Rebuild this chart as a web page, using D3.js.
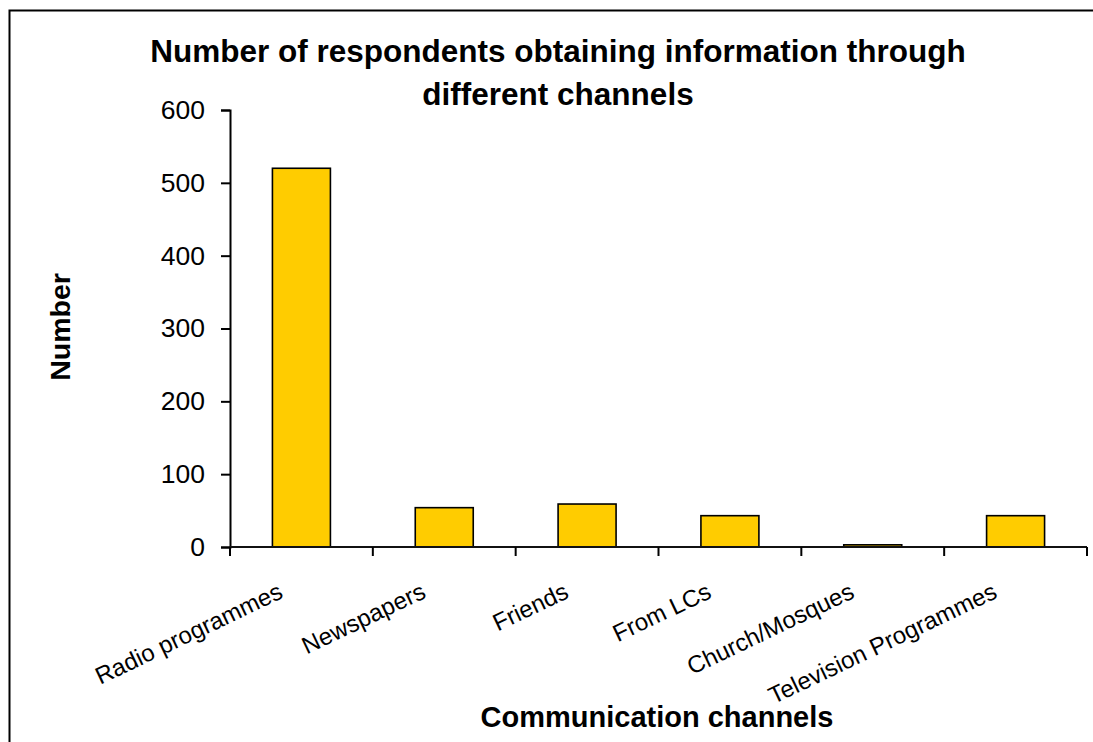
<!DOCTYPE html>
<html>
<head>
<meta charset="utf-8">
<script src="https://cdn.jsdelivr.net/npm/d3@7"></script>
<style>
  html, body { margin: 0; padding: 0; background: #ffffff; }
  svg { display: block; font-family: "Liberation Sans", Arial, sans-serif; }
</style>
</head>
<body>
<svg id="chart" width="1093" height="742"></svg>
<script>
// Communication channels and respondent counts
const channels = ["Radio programmes", "Newspapers", "Friends", "From LCs", "Church/Mosques", "Television Programmes"];
const respondents = [520, 54, 59, 43, 3, 43];
const yTicks = [0, 100, 200, 300, 400, 500, 600];
const titleLines = ["Number of respondents obtaining information through", "different channels"];
const xTitle = "Communication channels";
const yTitle = "Number";

const svg = d3.select("#chart");

// outer chart frame
svg.append("rect")
  .attr("x", 9.5).attr("y", 10.5)
  .attr("width", 1200).attr("height", 900)
  .attr("fill", "none").attr("stroke", "#000").attr("stroke-width", 2);

const plot = { left: 230, right: 1087, top: 110, bottom: 547 };

const x = d3.scaleBand()
  .domain(channels)
  .range([plot.left, plot.right])
  .paddingInner(0.594)
  .paddingOuter(0.297);

const y = d3.scaleLinear()
  .domain([0, 600])
  .range([plot.bottom, plot.top]);

// bars
svg.append("g").selectAll("rect")
  .data(channels.map((c, i) => ({ c, v: respondents[i] })))
  .join("rect")
  .attr("x", d => x(d.c))
  .attr("y", d => y(d.v))
  .attr("width", x.bandwidth())
  .attr("height", d => y(0) - y(d.v))
  .attr("fill", "#FFCC00")
  .attr("stroke", "#000")
  .attr("stroke-width", 1.6);

// y axis
const yAxis = svg.append("g")
  .attr("transform", `translate(${plot.left},0)`)
  .call(d3.axisLeft(y).tickValues(yTicks).tickSize(9).tickPadding(16).tickFormat(d3.format("d")));
yAxis.select(".domain").attr("stroke", "#000").attr("stroke-width", 2);
yAxis.selectAll(".tick line").attr("stroke", "#000").attr("stroke-width", 2);
yAxis.selectAll(".tick text")
  .attr("font-size", 26.5)
  .attr("font-family", "Liberation Sans, Arial, sans-serif")
  .attr("fill", "#000");

// x axis: baseline with ticks at category boundaries
const step = x.step();
const boundaries = d3.range(channels.length + 1).map(i => plot.left + i * step);
const xAxis = svg.append("g");
xAxis.append("line")
  .attr("x1", plot.left).attr("x2", plot.right)
  .attr("y1", y(0)).attr("y2", y(0))
  .attr("stroke", "#111").attr("stroke-width", 2);
xAxis.selectAll("line.tick")
  .data(boundaries)
  .join("line")
  .attr("class", "tick")
  .attr("x1", d => d).attr("x2", d => d)
  .attr("y1", y(0)).attr("y2", y(0) + 9)
  .attr("stroke", "#000").attr("stroke-width", 2);

// rotated category labels
xAxis.selectAll("text")
  .data(channels)
  .join("text")
  .attr("transform", d => `translate(${x(d) + x.bandwidth() / 2 - 17},${y(0) + 50}) rotate(-25.5)`)
  .attr("text-anchor", "end")
  .attr("font-size", 24)
  .attr("fill", "#000")
  .text(d => d);

// chart title
svg.append("text")
  .attr("x", 558)
  .attr("text-anchor", "middle")
  .attr("font-size", 31.5)
  .attr("font-weight", "bold")
  .selectAll("tspan")
  .data(titleLines)
  .join("tspan")
  .attr("x", 558)
  .attr("y", (d, i) => 62 + i * 43)
  .text(d => d);

// axis titles
svg.append("text")
  .attr("x", 657).attr("y", 727)
  .attr("text-anchor", "middle")
  .attr("font-size", 29)
  .attr("font-weight", "bold")
  .text(xTitle);

svg.append("text")
  .attr("transform", "translate(70,327) rotate(-90)")
  .attr("text-anchor", "middle")
  .attr("font-size", 28.5)
  .attr("font-weight", "bold")
  .text(yTitle);
</script>
</body>
</html>
